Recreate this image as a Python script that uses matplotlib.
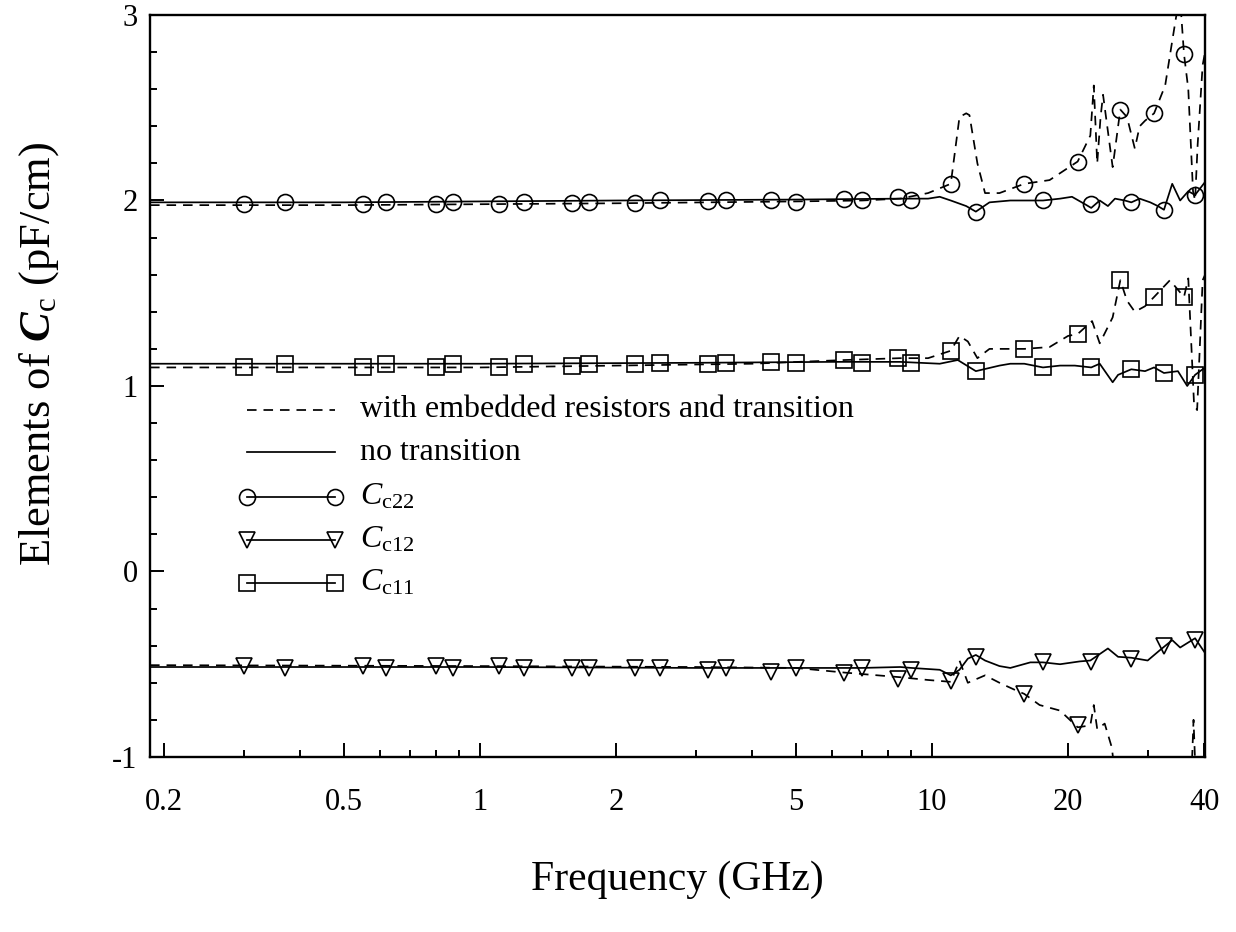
import numpy as np
import matplotlib
matplotlib.use('Agg')
import matplotlib.pyplot as plt
from matplotlib.ticker import FixedLocator, MultipleLocator, NullFormatter

plt.rcParams['font.family'] = ['Liberation Serif', 'DejaVu Serif']
plt.rcParams['mathtext.fontset'] = 'custom'
plt.rcParams['mathtext.rm'] = 'Liberation Serif'
plt.rcParams['mathtext.it'] = 'Liberation Serif:italic'
plt.rcParams['mathtext.bf'] = 'Liberation Serif:bold'
plt.rcParams['mathtext.bfit'] = 'Liberation Serif:italic:bold'
plt.rcParams['axes.unicode_minus'] = False

# ---- data (frequency in GHz, capacitance in pF/cm) ----
# C_c22, with embedded resistors and transition (dashed)
c22_dash_f = [0.186, 0.5, 1.0, 2.0, 5.0, 7.0, 8.5, 9.8, 11.0, 11.5, 11.9, 12.1, 12.6, 13.1, 14.1,
              16.0, 18.2, 21.0, 22.4, 22.8, 23.2, 23.6, 23.9, 25.1, 26.1, 27.0, 28.1, 28.8, 29.6,
              31.0, 32.8, 34.0, 35.0, 35.6, 36.1, 36.9, 37.8, 38.2, 38.7, 39.7, 40.2]
c22_dash_v = [1.975, 1.975, 1.98, 1.985, 1.995, 2.0, 2.01, 2.04, 2.09, 2.45, 2.47, 2.46, 2.2, 2.04, 2.04,
              2.09, 2.11, 2.21, 2.35, 2.62, 2.2, 2.45, 2.57, 2.18, 2.49, 2.45, 2.28, 2.40, 2.43,
              2.47, 2.62, 2.86, 3.05, 3.0, 2.79, 2.6, 2.05, 2.0, 2.3, 2.73, 2.8]
# C_c22, no transition (solid)
c22_sol_f = [0.186, 0.5, 1.0, 2.0, 5.0, 8.5, 9.8, 10.4, 11.0, 11.9, 12.5, 13.4, 14.9, 16.5, 17.6,
             19.2, 20.4, 21.8, 22.5, 23.5, 24.5, 25.4, 26.7, 27.6, 28.8, 30.4, 31.6, 32.6, 34.0,
             35.4, 36.9, 38.2, 40.2]
c22_sol_v = [1.99, 1.99, 1.995, 2.0, 2.005, 2.01, 2.01, 2.02, 2.0, 1.97, 1.94, 1.99, 2.0, 2.0, 2.0,
             2.01, 2.02, 1.98, 1.96, 2.0, 1.97, 2.01, 2.0, 1.99, 2.01, 1.99, 1.97, 1.95, 2.09,
             2.0, 2.05, 2.03, 2.1]

# C_c11
c11_dash_f = [0.186, 1.0, 2.0, 4.0, 6.4, 8.5, 9.8, 11.0, 11.5, 12.0, 12.6, 13.4, 16.0, 18.2, 20.0,
              21.0, 22.6, 23.5, 25.1, 26.1, 27.0, 28.1, 29.6, 31.0, 33.6, 36.1, 36.9, 38.0, 38.6,
              39.7, 40.2]
c11_dash_v = [1.10, 1.10, 1.11, 1.12, 1.14, 1.15, 1.15, 1.19, 1.27, 1.24, 1.15, 1.20, 1.20, 1.21, 1.27,
              1.28, 1.35, 1.23, 1.37, 1.57, 1.46, 1.40, 1.43, 1.48, 1.57, 1.48, 1.58, 0.90, 0.87,
              1.57, 1.60]
c11_sol_f = [0.186, 1.0, 3.0, 6.0, 8.5, 10.4, 11.4, 12.5, 14.1, 14.9, 16.0, 17.6, 19.2, 20.7, 22.5,
             23.5, 25.1, 25.8, 27.6, 29.6, 31.0, 32.6, 35.0, 36.7, 38.2, 40.2]
c11_sol_v = [1.12, 1.12, 1.125, 1.13, 1.13, 1.12, 1.14, 1.08, 1.11, 1.12, 1.12, 1.10, 1.11, 1.11, 1.10,
             1.12, 1.02, 1.06, 1.09, 1.08, 1.10, 1.07, 1.08, 1.00, 1.06, 1.10]

# C_c12
c12_dash_f = [0.186, 1.0, 3.0, 5.0, 6.4, 8.5, 9.8, 11.0, 11.5, 12.0, 13.1, 14.1, 15.3, 16.0, 17.3,
              19.2, 21.0, 22.4, 22.8, 23.2, 24.1, 25.0, 25.4, 37.5, 37.9, 38.3]
c12_dash_v = [-0.505, -0.51, -0.515, -0.52, -0.545, -0.57, -0.585, -0.595, -0.48, -0.60, -0.56, -0.60,
              -0.64, -0.66, -0.72, -0.75, -0.84, -0.83, -0.72, -0.85, -0.82, -0.95, -1.1, -1.1, -0.8, -1.1]
c12_sol_f = [0.186, 1.0, 3.0, 5.0, 7.0, 8.5, 9.0, 10.4, 11.0, 11.5, 12.0, 12.5, 13.1, 14.1, 14.9,
             16.5, 17.6, 19.2, 21.2, 22.4, 24.5, 25.8, 27.6, 30.0, 31.9, 34.0, 35.4, 38.2, 40.2]
c12_sol_v = [-0.515, -0.515, -0.52, -0.52, -0.52, -0.515, -0.52, -0.53, -0.56, -0.53, -0.47, -0.45,
             -0.48, -0.51, -0.52, -0.49, -0.49, -0.50, -0.485, -0.48, -0.415, -0.46, -0.465, -0.48,
             -0.425, -0.37, -0.41, -0.36, -0.44]

# marker frequencies (dashed curves / solid curves)
mk_dash_f = [0.30, 0.55, 0.80, 1.10, 1.60, 2.2, 3.2, 4.4, 6.4, 8.4, 11.0, 16.0, 21.0, 26.1, 31.0, 36.1]
mk_sol_f = [0.37, 0.62, 0.87, 1.25, 1.74, 2.5, 3.5, 5.0, 7.0, 9.0, 12.5, 17.6, 22.5, 27.6, 32.6, 38.2]

c22_mk_dash = [1.98, 1.98, 1.98, 1.98, 1.985, 1.985, 1.995, 2.0, 2.01, 2.02, 2.09, 2.09, 2.21, 2.49, 2.47, 2.79]
c22_mk_sol = [1.99, 1.99, 1.99, 1.99, 1.99, 2.0, 2.0, 1.99, 2.0, 2.0, 1.94, 2.0, 1.98, 1.99, 1.95, 2.03]
c11_mk_dash = [1.105, 1.105, 1.105, 1.105, 1.11, 1.12, 1.12, 1.13, 1.14, 1.15, 1.19, 1.20, 1.28, 1.57, 1.48, 1.48]
c11_mk_sol = [1.12, 1.12, 1.12, 1.12, 1.12, 1.125, 1.125, 1.125, 1.125, 1.125, 1.08, 1.10, 1.10, 1.09, 1.07, 1.06]
c12_mk_dash = [-0.51, -0.51, -0.51, -0.51, -0.52, -0.52, -0.53, -0.54, -0.55, -0.58, -0.59, -0.66, -0.83, -1.2, -1.2, -1.2]
c12_mk_sol = [-0.52, -0.52, -0.52, -0.52, -0.52, -0.52, -0.52, -0.52, -0.52, -0.53, -0.46, -0.49, -0.49, -0.47, -0.40, -0.37]

x_major = [0.2, 0.5, 1, 2, 5, 10, 20, 40]
x_labels = ['0.2', '0.5', '1', '2', '5', '10', '20', '40']
y_major = [-1, 0, 1, 2, 3]

fig = plt.figure(figsize=(12.36, 9.32), dpi=100)
ax = fig.add_axes([0.1214, 0.1878, 0.8536, 0.7961])

lw = 1.25
dash = (0, (5.5, 4))
ms = 11.5
mew = 1.2

for f, v in [(c22_dash_f, c22_dash_v), (c11_dash_f, c11_dash_v), (c12_dash_f, c12_dash_v)]:
    ax.plot(f, v, color='black', lw=lw, linestyle=dash)
for f, v in [(c22_sol_f, c22_sol_v), (c11_sol_f, c11_sol_v), (c12_sol_f, c12_sol_v)]:
    ax.plot(f, v, color='black', lw=lw)

for mk, vd, vs in [('o', c22_mk_dash, c22_mk_sol), ('s', c11_mk_dash, c11_mk_sol),
                   ('v', c12_mk_dash, c12_mk_sol)]:
    ax.plot(mk_dash_f, vd, linestyle='none', marker=mk, ms=ms, mfc='none', mec='black', mew=mew)
    ax.plot(mk_sol_f, vs, linestyle='none', marker=mk, ms=ms, mfc='none', mec='black', mew=mew)

ax.set_xscale('log')
ax.set_xlim(0.186, 40.2)
ax.set_ylim(-1, 3)
ax.xaxis.set_major_locator(FixedLocator(x_major))
ax.set_xticklabels(x_labels)
ax.xaxis.set_minor_formatter(NullFormatter())
ax.yaxis.set_major_locator(FixedLocator(y_major))
ax.yaxis.set_minor_locator(MultipleLocator(0.2))

ax.tick_params(which='both', direction='in', top=False, right=False, width=1.4, labelsize=22)
ax.tick_params(which='major', length=10)
ax.tick_params(which='minor', length=5)
ax.tick_params(axis='x', pad=22)
ax.tick_params(axis='y', pad=9)
for s in ax.spines.values():
    s.set_linewidth(1.7)

ax.set_xlabel('Frequency (GHz)', fontsize=30, labelpad=32)
ax.set_ylabel(r'Elements of $\mathbfit{C}_{\mathrm{c}}$ (pF/cm)', fontsize=32)
ax.yaxis.set_label_coords(-0.084, 0.543)

# legend drawn by hand in axes fraction
lx0, lx1, tx = 0.092, 0.175, 0.199
rows = [0.4677, 0.411, 0.3504, 0.2925, 0.2345]
ax.plot([lx0, lx1], [rows[0]] * 2, transform=ax.transAxes, color='black', lw=lw, linestyle=dash)
ax.plot([lx0, lx1], [rows[1]] * 2, transform=ax.transAxes, color='black', lw=lw)
for mk, r in [('o', rows[2]), ('v', rows[3]), ('s', rows[4])]:
    ax.plot([lx0, lx1], [r, r], transform=ax.transAxes, color='black', lw=lw,
            marker=mk, ms=ms, mfc='none', mec='black', mew=mew)
leg_txt = ['with embedded resistors and transition', 'no transition',
           r'$C_{\mathrm{c22}}$', r'$C_{\mathrm{c12}}$', r'$C_{\mathrm{c11}}$']
for t, r in zip(leg_txt, rows):
    ax.text(tx, r, t, transform=ax.transAxes, fontsize=23, va='center', ha='left')

fig.savefig('out.png', dpi=100)
